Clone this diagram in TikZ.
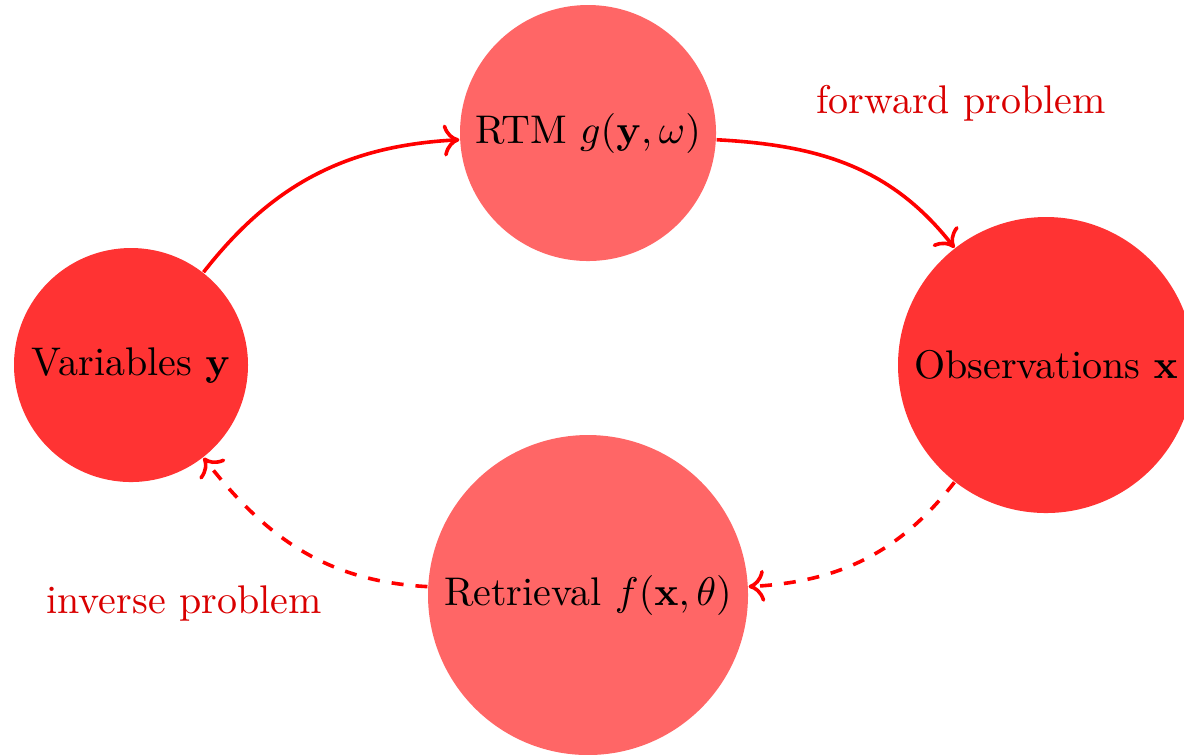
\documentclass[tikz,border=0pt]{standalone}
\usetikzlibrary{arrows.meta}
\begin{document}
\begin{tikzpicture}[x=0.25pt,y=0.25pt,
  blob/.style={circle,inner sep=0pt,text=black,font=\normalsize},
  darkblob/.style={blob,fill=red!80},
  lightblob/.style={blob,fill=red!60},
  link/.style={draw=red,line width=0.9pt,-{To[length=4pt,width=8pt]}},
  lbl/.style={text=red!85!black,font=\normalsize}]
\useasboundingbox (0,0) rectangle (1184,-754);
\node[darkblob,minimum size=58.5pt] (var) at (131,-365) {Variables $\mathbf{y}$};
\node[lightblob,minimum size=64pt] (rtm) at (588,-133) {RTM $g(\mathbf{y},\omega)$};
\node[darkblob,minimum size=74pt] (obs) at (1046,-365) {Observations $\mathbf{x}$};
\node[lightblob,minimum size=80pt] (ret) at (588,-595) {Retrieval $f(\mathbf{x},\theta)$};
\node[lbl] (fwd) at (961,-103) {forward problem};
\node[lbl] (inv) at (184,-603) {inverse problem};
\draw[link] (var) to[out=52,in=183] (rtm);
\draw[link] (rtm) to[out=-3,in=128] (obs);
\draw[link,dashed] (obs) to[out=232,in=3] (ret);
\draw[link,dashed] (ret) to[out=177,in=308] (var);
\end{tikzpicture}
\end{document}
